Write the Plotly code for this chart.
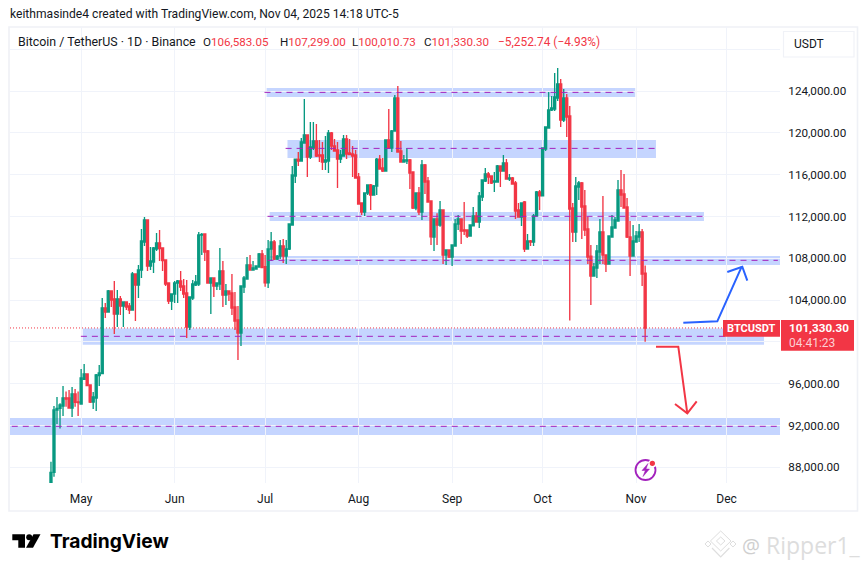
import pandas as pd
import plotly.graph_objects as go

START_DATE = "2025-04-21"
open_prices = [
    85170,87520,93480,93640,93860,94630,94630,93670,95010,94250,
    94050,96420,96930,95870,94250,94630,96770,96960,103240,102860,104870,104100,102670,104100,103430,103810,103430,103050,106490,105440,106880,109550,111660,107260,107640,108880,109460,108980,107830,105630,103910,
    104580,105630,105820,105340,104680,101420,104200,105440,105540,110220,110320,108690,105630,106110,105340,105540,106780,104480,104870,104680,103340,102090,100850,105250,106010,107350,106880,106970,107160,108410,
    107190,105660,108880,109550,107930,108210,109170,108210,108880,111180,115870,117490,117300,119020,119790,117690,118550,119220,117880,117880,117210,117300,119980,118740,118360,117490,117780,119410,118070,117970,117880,
    115770,113290,112420,114240,115010,114050,114910,117490,116630,116350,119310,118550,120170,123330,118260,117210,117300,117400,116250,112810,114240,112420,116920,115390,113480,110030,111750,111180,112620,108310,108790,
    108120,109170,111280,111760,110700,110700,110130,111090,112040,111470,113860,115390,116060,115870,115290,115290,116830,116350,117110,115580,115680,115200,112620,111950,113380,108880,109650,109550,112040,114340,
    113960,118450,120460,122180,122280,123330,124670,121230,123330,121610,112810,110510,114820,115200,113000,110800,108210,106300,107070,108600,110510,108310,107450,110030,110890,111560,114530,114150,112900,110030,108210,
    109550,110030,110510,106583.05,
]
high_prices = [
    88540,93860,94720,94120,95780,95240,95400,95680,95490,95240,
    97400,97880,96950,95880,95200,96930,97790,104200,103720,104960,104870,105820,104960,104390,103820,103830,103720,106680,106500,107350,110800,111950,111720,109080,109080,110420,110700,109000,107840,105640,104580,
    105820,105920,106780,106010,105920,104300,105920,106400,110510,110420,110400,108790,106120,106120,105640,108980,107740,105540,104870,106490,104770,103430,105350,106300,108120,108310,107740,107270,108500,108790,
    108310,109750,110510,109750,108310,109750,109840,109750,111290,116830,117500,118160,119500,123230,119800,121030,121030,120840,119310,119120,119690,120270,120080,119410,119120,118360,119790,119790,119410,118740,118360,
    116160,113290,114250,115020,115100,115010,117590,117880,117590,119320,122280,120270,123620,124480,119220,117880,118550,117490,116260,114250,114820,117400,117020,115770,113480,111800,112300,113480,112620,108800,108800,
    109280,111760,112140,111760,113380,110710,111190,112900,112420,114340,115490,116630,116250,115870,116250,116920,116830,117880,117500,116060,115770,115390,113290,113290,113480,110320,109750,112230,114430,114530,
    118550,120560,123910,123520,125720,126200,125150,124190,123710,122570,113290,115770,115390,115290,114530,111950,109270,107550,109270,111760,113960,108320,110130,112140,111950,115490,116440,116060,113760,111560,111180,
    110610,111280,110800,107299,
]
low_prices = [
    84900,87100,92140,91700,92900,93800,93670,92810,93800,92900,
    94000,96350,95800,94150,93580,93390,95780,96950,102280,102850,103340,100750,101420,102570,101420,103050,102670,103040,102000,104200,106110,109170,106780,106880,106590,108690,107740,106780,105340,103620,103050,
    103720,103720,104870,104200,100370,101140,104000,105340,105340,108310,107740,105600,102670,104290,104960,104960,103340,103530,103910,102570,101140,98270,99600,104680,106000,106870,106800,106960,107150,107090,
    105280,105150,107740,107830,107830,107930,107540,107450,108790,111170,115200,116830,117290,118990,115770,117490,118360,117690,117210,116440,116440,116160,118360,118250,114720,117110,117770,117490,117880,115770,115670,
    113180,112140,112040,114050,112620,114040,114050,116530,116250,116340,118540,118160,120170,118160,117200,117200,117020,114620,112710,112600,112140,111660,114150,113370,109270,108700,109270,111020,107450,107350,108020,
    107260,109160,110700,109360,110220,109940,110120,111080,111460,110890,113480,115290,115100,115100,114340,115290,114820,116340,115570,115390,115100,111760,111940,111090,108600,108880,109170,109170,112040,112620,
    113950,118260,120450,122090,122090,123040,120560,121040,119600,102040,109550,109550,113570,109840,110130,107450,103530,106300,106110,107450,107450,106680,107440,110030,110890,111560,112900,112800,109940,106300,108210,
    109550,109550,105350,100010.73,
]
close_prices = [
    87520,93480,93640,93960,94630,94530,93670,95010,94220,94180,
    96540,96930,95810,94250,94730,96830,97020,103240,102860,104870,104000,102670,104100,103430,103810,103340,103050,106490,105440,106880,109650,111660,107260,107740,108980,109460,108920,107770,105540,103910,104580,
    105630,105820,105250,104580,101420,104290,105540,105730,110220,110290,108600,105630,106110,105340,105630,106780,104480,104870,104580,103240,102000,100850,105340,106110,107350,106880,107070,107260,108410,107100,
    105660,108880,109550,107930,108210,109170,108210,108880,111280,115960,117490,117300,119120,119790,117690,118640,119220,117780,117780,117210,117400,119980,118740,118260,117490,117880,119410,117970,117910,117780,115680,
    113190,112420,114240,115010,114050,114910,117490,116540,116350,119310,118550,120170,123330,118160,117210,117400,117400,116160,112810,114240,112420,116920,115290,113380,110060,111750,111180,112620,108310,108790,108120,
    109270,111280,111760,110610,110610,110130,111180,112040,111470,113960,115490,116060,115770,115200,115390,116830,116350,117110,115580,115680,115100,112520,111950,113290,108880,109650,109550,112040,114340,113960,
    118550,120560,122180,122370,123430,124670,121230,123330,121510,112710,110510,114910,115200,112900,110700,108120,106300,107160,108690,110510,108310,107450,110130,110990,111660,114530,114050,112810,110030,108210,109650,
    110130,110510,106490,101330.30,
]

month_ticks = ["2025-05-01","2025-06-01","2025-07-01","2025-08-01","2025-09-01","2025-10-01","2025-11-01","2025-12-01"]
month_labels = ["May","Jun","Jul","Aug","Sep","Oct","Nov","Dec"]
price_ticks = [88000,92000,96000,100000,104000,108000,112000,116000,120000,124000,128000]
price_labels = ["88,000.00","92,000.00","96,000.00","","104,000.00","108,000.00","112,000.00","116,000.00","120,000.00","124,000.00",""]

zone_top = [124290,119310,112420,108210,101290,92720]
zone_bottom = [123420,117590,111560,107350,99730,91090]
zone_start = ["2025-07-01 12:00","2025-07-08 10:00","2025-07-02 12:00","2025-07-02 12:00","2025-05-01 13:00","2025-04-07 10:00"]
zone_end = ["2025-10-31 17:00","2025-11-07 14:00","2025-11-23 12:00","2025-12-18 17:00","2025-12-13 10:00","2025-12-18 17:00"]
level_price = [123870,118510,112010,107800,100530,91920]
level_start = ["2025-06-30 19:00","2025-07-07 19:00","2025-07-01 19:00","2025-07-01 19:00","2025-04-30 22:00","2025-04-08 00:00"]
level_end = ["2025-10-31 17:00","2025-11-07 14:00","2025-11-23 12:00","2025-12-18 00:00","2025-11-30 19:00","2025-12-18 00:00"]
last_close = 101330.30

GREEN, RED, INK, GRID, PURPLE, BLUE = "#089981", "#f23645", "#131722", "#f0f3fa", "#a322bd", "#2962ff"
W, H = 868, 571
L, R, T, B = 10, 780, 27, 483
FONT = "Roboto"

def fx(x):
    return (x - L) / (R - L)
def fy(y):
    return (B - y) / (B - T)
def poly(points, close=False):
    s = "M " + " L ".join(f"{fx(x):.5f},{fy(y):.5f}" for x, y in points)
    return s + (" Z" if close else "")

fig = go.Figure(go.Candlestick(
    x=pd.date_range(START_DATE, periods=len(close_prices), freq="D"),
    open=open_prices, high=high_prices, low=low_prices, close=close_prices,
    increasing=dict(line=dict(color=GREEN, width=1.35), fillcolor=GREEN),
    decreasing=dict(line=dict(color=RED, width=1.35), fillcolor=RED),
    whiskerwidth=0, hoverinfo="skip", showlegend=False,
))

shapes = []
for x0, x1, y0, y1 in zip(zone_start, zone_end, zone_bottom, zone_top):
    shapes.append(dict(type="rect", xref="x", yref="y", x0=x0, x1=x1, y0=y0, y1=y1, layer="below",
                       line=dict(width=0), fillcolor="rgba(41,98,255,0.27)"))
for x0, x1, p in zip(level_start, level_end, level_price):
    shapes.append(dict(type="line", xref="x", yref="y", x0=x0, x1=x1, y0=p, y1=p,
                       line=dict(color=PURPLE, width=1, dash="6px,5px")))
shapes.append(dict(type="line", xref="paper", yref="y", x0=0, x1=1, y0=last_close, y1=last_close, layer="below",
                   line=dict(color=RED, width=1, dash="1px,2px")))

def paper_path(points, color, width=0, fill=None, close=False):
    return dict(type="path", xref="paper", yref="paper", path=poly(points, close),
                line=dict(color=color, width=width), fillcolor=fill)

def paper_rect(x0, y0, x1, y1, fill=None, line=None, width=0, layer="above"):
    return dict(type="rect", xref="paper", yref="paper", x0=fx(x0), x1=fx(x1), y0=fy(y1), y1=fy(y0), layer=layer,
                fillcolor=fill, line=dict(color=line, width=width))

# frame, currency button, price labels
shapes.append(paper_rect(9, 27, 857.5, 511, line="#eff1f6", width=1.6, layer="below"))
shapes.append(paper_rect(783.5, 31.5, 854, 57, fill="white", line="#f0f2f7", width=1.2))
shapes.append(paper_rect(723, 320, 780, 336.7, fill=RED))
shapes.append(paper_rect(781, 320, 854, 350.7, fill=RED))
# hand drawn arrows
shapes.append(paper_path([(683.3,322.7),(717.3,321.3),(741.7,266.7)], BLUE, 2))
shapes.append(paper_path([(727.3,272),(742.3,266.7),(747.3,280.7)], BLUE, 2))
shapes.append(paper_path([(656,346.7),(678.3,346.7),(687.3,413.3)], RED, 2))
shapes.append(paper_path([(675,404),(687.3,413.3),(696.7,401.3)], RED, 2))
# bolt badge
shapes.append(dict(type="circle", xref="paper", yref="paper", x0=fx(635.5), x1=fx(655.5), y0=fy(480), y1=fy(460),
                   line=dict(color=PURPLE, width=1.8)))
shapes.append(dict(type="circle", xref="paper", yref="paper", x0=fx(648.5), x1=fx(656.5), y0=fy(467.5), y1=fy(459.5),
                   line=dict(width=0), fillcolor="white"))
shapes.append(dict(type="circle", xref="paper", yref="paper", x0=fx(649.7), x1=fx(655), y0=fy(466), y1=fy(460.7),
                   line=dict(width=0), fillcolor=RED))
shapes.append(paper_path([(648,463.5),(642,470.5),(645.3,470.5),(643,476.5),(649.5,469),(646,469)], PURPLE, 0.5, PURPLE, True))
# TradingView mark
shapes.append(paper_path([(12.3,534.3),(25,534.3),(25,547.7),(18.3,547.7),(18.3,540.3),(12.3,540.3)], "#000", 0, "#000", True))
shapes.append(dict(type="circle", xref="paper", yref="paper", x0=fx(26.2), x1=fx(32.2), y0=fy(540.3), y1=fy(534.3),
                   line=dict(width=0), fillcolor="#000"))
shapes.append(paper_path([(33.5,534.3),(40.5,534.3),(33,547.7),(26,547.7)], "#000", 0, "#000", True))
# watermark diamonds
WM = "#dedede"
shapes.append(paper_path([(720.7,531),(731,541),(720.7,551),(710.4,541)], WM, 1, None, True))
shapes.append(paper_path([(720.7,537),(725,541),(720.7,545),(716.4,541)], WM, 1, None, True))
shapes.append(paper_path([(712,548),(720.7,557),(729.4,548)], WM, 1.2))
shapes.append(paper_path([(708,541),(711,544),(708,547),(705,544)], WM, 1, None, True))
shapes.append(paper_path([(733,541),(736,544),(733,547),(730,544)], WM, 1, None, True))

def note(x, y, text, size=12, color=INK, anchor="left", family=FONT):
    return dict(xref="paper", yref="paper", x=fx(x), y=fy(y), text=text, showarrow=False, xanchor=anchor,
                yanchor="middle", align=anchor, borderpad=0, font=dict(family=family, size=size, color=color))

def red(s):
    return f'<span style="color:{RED}">{s}</span>'

annotations = [
    note(9, 14, "keithmasinde4 created with TradingView.com, Nov 04, 2025 14:18 UTC-5", 12.1),
    note(17, 41.5, "Bitcoin / TetherUS · 1D · Binance", 12.4),
    note(202, 41.5, "O" + red("106,583.05"), 11.6),
    note(279, 41.5, "H" + red("107,299.00"), 11.6),
    note(351, 41.5, "L" + red("100,010.73"), 11.6),
    note(423, 41.5, "C" + red("101,330.30"), 11.6),
    note(497, 41.5, red("−5,252.74 (−4.93%)"), 11.9),
    note(793, 44.5, "USDT", 12),
    note(751.5, 328.5, "<b>BTCUSDT</b>", 11, "white", "center"),
    note(788, 328, "<b>101,330.30</b>", 11.7, "white"),
    note(788, 342.5, "04:41:23", 12, "#fcd0d4"),
    note(49, 541, "<b>TradingView</b>", 19.2, "#000", family="Inter"),
    note(741, 545, "@", 20, "#cfcfcf", family="Open Sans"),
    note(765, 545, "Ripper1_", 23, "#dddddd", family="Open Sans"),
]

fig.update_layout(
    width=W, height=H, autosize=False,
    margin=dict(l=L, r=W - R, t=T, b=H - B, pad=0),
    paper_bgcolor="white", plot_bgcolor="white",
    shapes=shapes, annotations=annotations, showlegend=False, boxgap=0.05,
    font=dict(family=FONT, size=12, color=INK),
    xaxis=dict(type="date", range=["2025-04-07 10:00", "2025-12-18 17:00"], tickmode="array",
               tickvals=month_ticks, ticktext=month_labels, showgrid=True, gridcolor=GRID, gridwidth=1,
               rangeslider=dict(visible=False), showline=False, zeroline=False, ticks="outside", ticklen=5,
               tickcolor="rgba(0,0,0,0)", tickfont=dict(family=FONT, size=12, color=INK), fixedrange=True),
    yaxis=dict(side="right", range=[86497, 130123], tickmode="array", tickvals=price_ticks, ticktext=price_labels,
               showgrid=True, gridcolor=GRID, gridwidth=1, showline=False, zeroline=False, ticks="outside", ticklen=5,
               tickcolor="rgba(0,0,0,0)", tickfont=dict(family=FONT, size=11.7, color=INK), fixedrange=True),
)

fig.write_html("out.html", config=dict(displayModeBar=False),
               post_script="document.body.style.margin='0';document.body.style.overflow='hidden';")
